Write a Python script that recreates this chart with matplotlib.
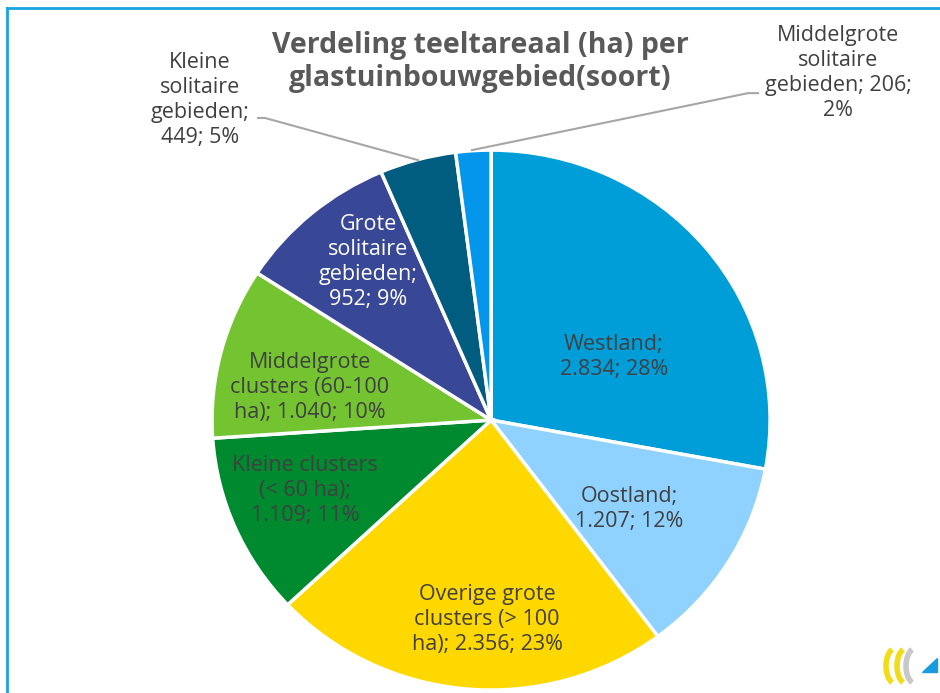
import matplotlib.pyplot as plt
from matplotlib.lines import Line2D
from matplotlib.patches import Arc, Polygon

# Data
names = ['Westland', 'Oostland', 'Overige grote clusters (> 100 ha)', 'Kleine clusters (< 60 ha)',
         'Middelgrote clusters (60-100 ha)', 'Grote solitaire gebieden', 'Kleine solitaire gebieden',
         'Middelgrote solitaire gebieden']
values = [2834, 1207, 2356, 1109, 1040, 952, 449, 206]
colors = ['#009ed8', '#8fd2ff', '#ffd800', '#008a30', '#74c432', '#384897', '#005d80', '#0496ea']

# data labels as Excel wraps them
texts = [
    'Westland;\n2.834; 28%',
    'Oostland;\n1.207; 12%',
    'Overige grote\nclusters (> 100\nha); 2.356; 23%',
    'Kleine clusters\n(< 60 ha);\n1.109; 11%',
    'Middelgrote\nclusters (60-100\nha); 1.040; 10%',
    'Grote\nsolitaire\ngebieden;\n952; 9%',
    'Kleine\nsolitaire\ngebieden;\n449; 5%',
    'Middelgrote\nsolitaire\ngebieden; 206;\n2%',
]
label_pos = [(0.44, 0.233), (0.495, -0.33), (-0.014, -0.74), (-0.667, -0.26),
             (-0.65, 0.122), (-0.44, 0.585), (-1.043, 1.185), (1.244, 1.285)]
text_colors = ['#404040', '#404040', '#404040', '#404040', '#404040', 'white', '#404040', '#404040']

plt.rcParams['font.family'] = ['Open Sans', 'DejaVu Sans']

fig = plt.figure(figsize=(9.4, 6.93), dpi=100)
ax = fig.add_axes([0, 0, 1, 1])

ax.pie(values, colors=colors, startangle=90, counterclock=False, radius=1,
       wedgeprops=dict(edgecolor='white', linewidth=2.5))

for t, (x, y), c in zip(texts, label_pos, text_colors):
    ax.text(x, y, t, ha='center', va='center', fontsize=15.5, color=c, linespacing=1.25)

# leader lines for the small outside slices
ax.add_line(Line2D([-0.835, -0.81, -0.262], [1.119, 1.119, 0.963], color='#a6a6a6', lw=1.5))
ax.add_line(Line2D([0.957, 0.921, -0.068], [1.211, 1.211, 1.0], color='#a6a6a6', lw=1.5))

ax.text(-0.039, 1.326, 'Verdeling teeltareaal (ha) per\nglastuinbouwgebied(soort)', ha='center', va='center',
        fontsize=20.5, fontweight='bold', color='#595959', linespacing=1.15)

# the source pie is slightly wider than tall
ax.set_xlim(-1.760, 1.609)
ax.set_ylim(-1.011, 1.556)
ax.set_aspect('auto')
ax.axis('off')

# frame border (top and left)
fig.add_artist(Line2D([7 / 940, 1], [1 - 8 / 693, 1 - 8 / 693], color='#1aa3e0', lw=2))
fig.add_artist(Line2D([7 / 940, 7 / 940], [0, 1 - 8 / 693], color='#1aa3e0', lw=2))


# small logo bottom right
def px(x, y):
    return x / 940, 1 - y / 693


for cx, col in [(896, '#f2dc1a'), (907, '#f2dc1a'), (916, '#c8c8c8')]:
    fig.add_artist(Arc(px(cx, 666), 20 / 940, 36 / 693, theta1=100, theta2=260,
                       color=col, lw=4, transform=fig.transFigure))
fig.add_artist(Polygon([px(922, 672), px(937, 672), px(937, 658)], closed=True,
                       color='#1a9be0', transform=fig.transFigure))

fig.savefig('out.png', dpi=100)
